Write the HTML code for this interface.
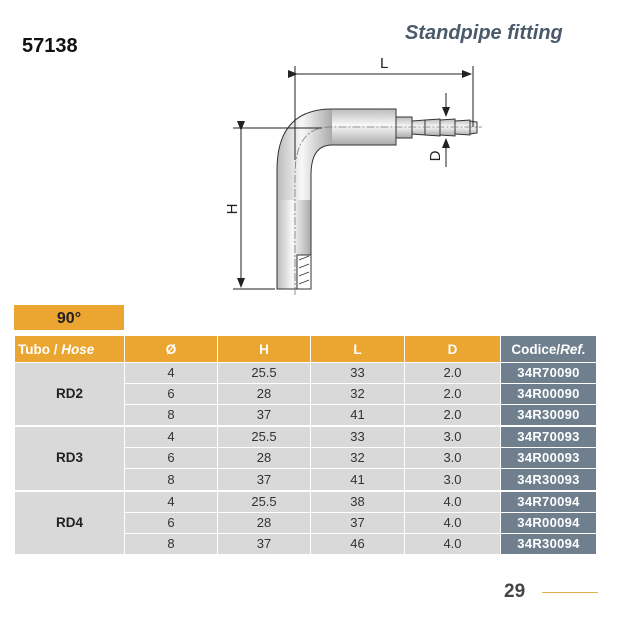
<!DOCTYPE html>
<html><head><meta charset="utf-8"><style>
body{margin:0;width:638px;height:640px;background:#fff;position:relative;font-family:"Liberation Sans",sans-serif;overflow:hidden}
.abs{position:absolute}
table{position:absolute;left:14px;top:336px;border-collapse:collapse;font-size:13px;color:#333}
td{height:20.1px;padding:0;text-align:center;border:1px solid #fff;background:#d9d9d9;line-height:18px}
th{height:24px;background:#eba531;color:#fff;font-weight:bold;border:1px solid #fff;border-top:0;font-size:13.5px}
td.c{background:#6f7f8e;color:#fff;font-weight:bold;letter-spacing:0.3px}
td.g{font-weight:bold;font-size:13.5px;color:#222}
tr.sep td{border-top:2px solid #fff}
</style></head><body>
<div class="abs" style="left:22px;top:35px;font-size:20px;font-weight:bold;color:#111">57138</div>
<div class="abs" style="left:405px;top:22px;font-size:20px;font-weight:bold;font-style:italic;color:#4a5a6a">Standpipe fitting</div>
<svg class="abs" style="left:0;top:0" width="638" height="300">
<defs>
<linearGradient id="gv" x1="0" x2="1" y1="0" y2="0"><stop offset="0" stop-color="#bbb"/><stop offset=".45" stop-color="#f8f8f8"/><stop offset="1" stop-color="#aaa"/></linearGradient>
<linearGradient id="gh" x1="0" x2="0" y1="0" y2="1"><stop offset="0" stop-color="#bbb"/><stop offset=".45" stop-color="#f8f8f8"/><stop offset="1" stop-color="#aaa"/></linearGradient>
<marker id="a" markerWidth="10" markerHeight="8" refX="9" refY="4" orient="auto"><path d="M0,0 L10,4 L0,8z" fill="#222"/></marker>
</defs>
<g stroke="#333" stroke-width="1">
<rect x="396" y="117" width="16" height="21" fill="url(#gh)"/>
<path d="M412 121 L425 120 L425 135 L412 134z M425 120 L440 119 L440 136 L425 135z M440 120 L455 119 L455 136 L440 135z M455 121 L470 120 L470 135 L455 134z M470 121 L477 122 L477 133 L470 134z" fill="url(#gh)"/>
<rect x="277" y="199" width="34" height="90" fill="url(#gv)"/>
<rect x="331" y="109" width="65" height="36" fill="url(#gh)"/>
<path d="M277 200 L277 170 Q277 109 332 109 L332 145 Q311 145 311 175 L311 200z" fill="url(#gv)" stroke="none"/>
<path d="M277 200 L277 170 Q277 109 332 109 M332 145 Q311 145 311 175 L311 200" fill="none"/>
<rect x="297" y="255" width="14" height="34" fill="#fff"/>
<path d="M299 260 L309 256 M299 268 L309 264 M299 276 L309 272 M299 284 L309 280" stroke-width=".8"/>
</g>
<g stroke="#777" stroke-width=".8" stroke-dasharray="8,2,2,2" fill="none">
<path d="M295 295 L295 175 Q295 127 330 127 L482 127"/>
</g>
<g stroke="#222" stroke-width="1" fill="none">
<line x1="295" y1="66" x2="295" y2="160"/><line x1="473" y1="66" x2="473" y2="127"/>
<line x1="297" y1="74" x2="471" y2="74" marker-end="url(#a)" marker-start="url(#a)"/>
<line x1="233" y1="128" x2="322" y2="128"/><line x1="233" y1="289" x2="275" y2="289"/>
<line x1="241" y1="130" x2="241" y2="287" marker-end="url(#a)" marker-start="url(#a)"/>
<line x1="446" y1="93" x2="446" y2="116" marker-end="url(#a)"/>
<line x1="446" y1="167" x2="446" y2="139" marker-end="url(#a)"/>
</g>
<text x="380" y="68" font-size="15" fill="#222">L</text>
<text transform="translate(237,209) rotate(-90)" font-size="15" fill="#222" text-anchor="middle">H</text>
<text transform="translate(440,156) rotate(-90)" font-size="15" fill="#222" text-anchor="middle">D</text>
</svg>
<div class="abs" style="left:14px;top:305px;width:110px;height:25px;background:#eba531;color:#222;font-weight:bold;font-size:16px;text-align:center;line-height:27px">90°</div>
<table>
<colgroup><col style="width:110px"><col style="width:93px"><col style="width:93px"><col style="width:94px"><col style="width:96px"><col style="width:96px"></colgroup>
<tr><th style="text-align:left;padding-left:3px">Tubo / <i>Hose</i></th><th>Ø</th><th>H</th><th>L</th><th>D</th><th style="background:#6f7f8e">Codice/<i>Ref.</i></th></tr>
<tr><td rowspan="3" class="g">RD2</td><td>4</td><td>25.5</td><td>33</td><td>2.0</td><td class="c">34R70090</td></tr>
<tr><td>6</td><td>28</td><td>32</td><td>2.0</td><td class="c">34R00090</td></tr>
<tr><td>8</td><td>37</td><td>41</td><td>2.0</td><td class="c">34R30090</td></tr>
<tr class="sep"><td rowspan="3" class="g">RD3</td><td>4</td><td>25.5</td><td>33</td><td>3.0</td><td class="c">34R70093</td></tr>
<tr><td>6</td><td>28</td><td>32</td><td>3.0</td><td class="c">34R00093</td></tr>
<tr><td>8</td><td>37</td><td>41</td><td>3.0</td><td class="c">34R30093</td></tr>
<tr class="sep"><td rowspan="3" class="g">RD4</td><td>4</td><td>25.5</td><td>38</td><td>4.0</td><td class="c">34R70094</td></tr>
<tr><td>6</td><td>28</td><td>37</td><td>4.0</td><td class="c">34R00094</td></tr>
<tr><td>8</td><td>37</td><td>46</td><td>4.0</td><td class="c">34R30094</td></tr>
</table>
<div class="abs" style="left:504px;top:581px;font-size:19px;font-weight:bold;color:#444">29</div>
<div class="abs" style="left:542px;top:592px;width:56px;height:1px;background:#e3b04a"></div>
</body></html>
